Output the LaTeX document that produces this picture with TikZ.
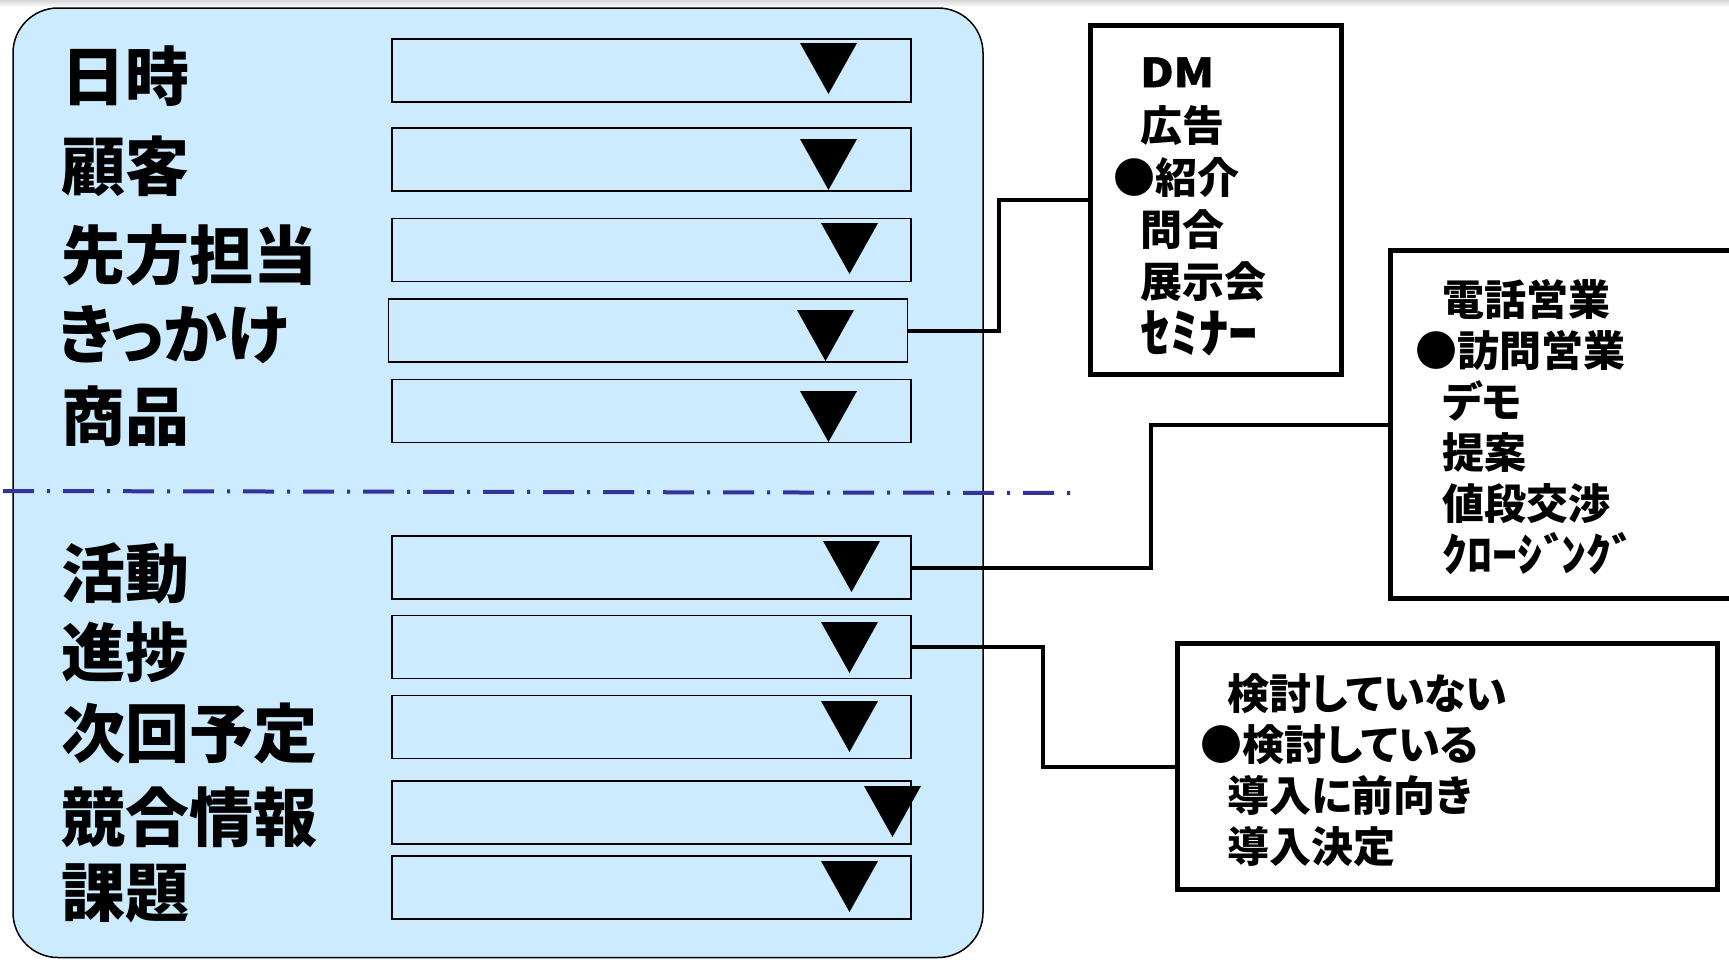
\documentclass[tikz,border=0pt]{standalone}
\usepackage{fontspec}
\newfontfamily\jpfont{Noto Sans CJK JP}[UprightFont=* Black, RawFeature=+palt]
\newfontfamily\dmfont{Noto Sans CJK JP}[UprightFont=* Black, FakeStretch=1.15, FakeBold=1.2]
\definecolor{panelblue}{HTML}{CCEBFF}
\definecolor{splitblue}{HTML}{333399}
% filled down-pointing arrow of a drop-down field: top-left corner given
\newcommand\droparrow[2]{\fill[black] (#1,#2) -- ++(57,0) -- ++(-28.5,51) -- cycle;}
\begin{document}
\begin{tikzpicture}[x=1pt,y=-1pt,
  panel/.style={draw=black, line width=1.5pt, fill=panelblue, rounded corners=45pt},
  dropbox/.style={draw=black, line width=1.8pt, fill=panelblue, inner sep=0,
    minimum width=519pt, minimum height=63pt},
  fieldlabel/.style={anchor=west, inner sep=0, font=\jpfont\fontsize{64pt}{64pt}\selectfont},
  choicebox/.style={draw=black, line width=5pt, fill=white, inner sep=0},
  choicetext/.style={anchor=north west, inner sep=0, align=left},
  link/.style={draw=black, line width=4pt},
  splitline/.style={draw=splitblue, line width=4pt,
    dash pattern=on 31pt off 13pt on 3pt off 13pt},
  ]
\useasboundingbox (0,0) rectangle (1729,959);
\clip (0,0) rectangle (1729,959);
\fill[top color=black!16, bottom color=white] (0,0) rectangle (1729,7);

% form panel
\path[panel] (13,8) rectangle (983,957.5);
\draw[splitline] (3,491) -- (1072,493);

% drop-down fields
\node[dropbox] (dd-date)     at (651.5,70.5)  {};
\node[dropbox] (dd-client)   at (651.5,159.5) {};
\node[dropbox] (dd-contact)  at (651.5,250)   {};
\node[dropbox] (dd-trigger)  at (648,330.5)   {};
\node[dropbox] (dd-product)  at (651.5,411)   {};
\node[dropbox] (dd-activity) at (651.5,567.5) {};
\node[dropbox] (dd-progress) at (651.5,647)   {};
\node[dropbox] (dd-next)     at (651.5,727)   {};
\node[dropbox] (dd-rival)    at (651.5,812.5) {};
\node[dropbox] (dd-issue)    at (651.5,887.5) {};

\droparrow{800}{43}
\droparrow{800}{139}
\droparrow{821}{223}
\droparrow{797}{310}
\droparrow{800}{391}
\droparrow{823}{541}
\droparrow{821}{622}
\droparrow{821}{701}
\droparrow{864}{786}
\droparrow{821}{861}

% field labels
\node[fieldlabel] (lbl-date)     at (61,76)    {日時};
\node[fieldlabel] (lbl-client)   at (61,166)   {顧客};
\node[fieldlabel] (lbl-contact)  at (61,255)   {先方担当};
\node[fieldlabel] (lbl-trigger)  at (58,335)   {きっかけ};
\node[fieldlabel] (lbl-product)  at (61,416)   {商品};
\node[fieldlabel] (lbl-activity) at (61,573.5) {活動};
\node[fieldlabel] (lbl-progress) at (61,652.5) {進捗};
\node[fieldlabel] (lbl-next)     at (61,733.5) {次回予定};
\node[fieldlabel] (lbl-rival)    at (61,817.5) {競合情報};
\node[fieldlabel] (lbl-issue)    at (61,893.5) {課題};

% option lists
\node[choicebox, minimum width=251pt, minimum height=349pt] (opt-trigger) at (1216,200) {};
\node[choicebox, minimum width=370pt, minimum height=348pt] (opt-activity) at (1575,424.5) {};
\node[choicebox, minimum width=540pt, minimum height=246pt] (opt-progress) at (1447.5,766.5) {};

\node[choicetext, font=\jpfont\fontsize{42pt}{52pt}\selectfont] (txt-trigger) at (1140,49.4)
  {\rule{0pt}{40pt}\raisebox{2.5pt}{\dmfont\fontsize{40pt}{40pt}\selectfont DM}\\
   広告\\
   \hspace*{-27pt}●紹介\\
   問合\\
   展示会\\
   \raisebox{-3pt}{\scalebox{1.4}[1.25]{ｾﾐﾅｰ}}};
\node[choicetext, font=\jpfont\fontsize{42pt}{51pt}\selectfont] (txt-activity) at (1442,275.4)
  {\rule{0pt}{40pt}電話営業\\
   \hspace*{-27pt}●訪問営業\\
   デモ\\
   提案\\
   値段交渉\\
   \raisebox{-1pt}{\scalebox{1.2}[1.08]{ｸﾛｰｼﾞ\kern-6ptﾝｸﾞ}}};
\node[choicetext, font=\jpfont\fontsize{42pt}{51pt}\selectfont] (txt-progress) at (1227,669)
  {\rule{0pt}{40pt}検討していない\\
   \hspace*{-27pt}●検討している\\
   導入に前向き\\
   導入決定};

% connectors from fields to their option lists
\coordinate (bend-trigger) at (999,330.5);
\coordinate (bend-activity) at (1151,567.5);
\coordinate (bend-progress) at (1043,647);
\draw[link] (dd-trigger.east) -- (bend-trigger) |- (opt-trigger.west);
\draw[link] (dd-activity.east) -- (bend-activity) |- (opt-activity.west);
\draw[link] (dd-progress.east) -- (bend-progress) |- (opt-progress.west);
\end{tikzpicture}
\end{document}
